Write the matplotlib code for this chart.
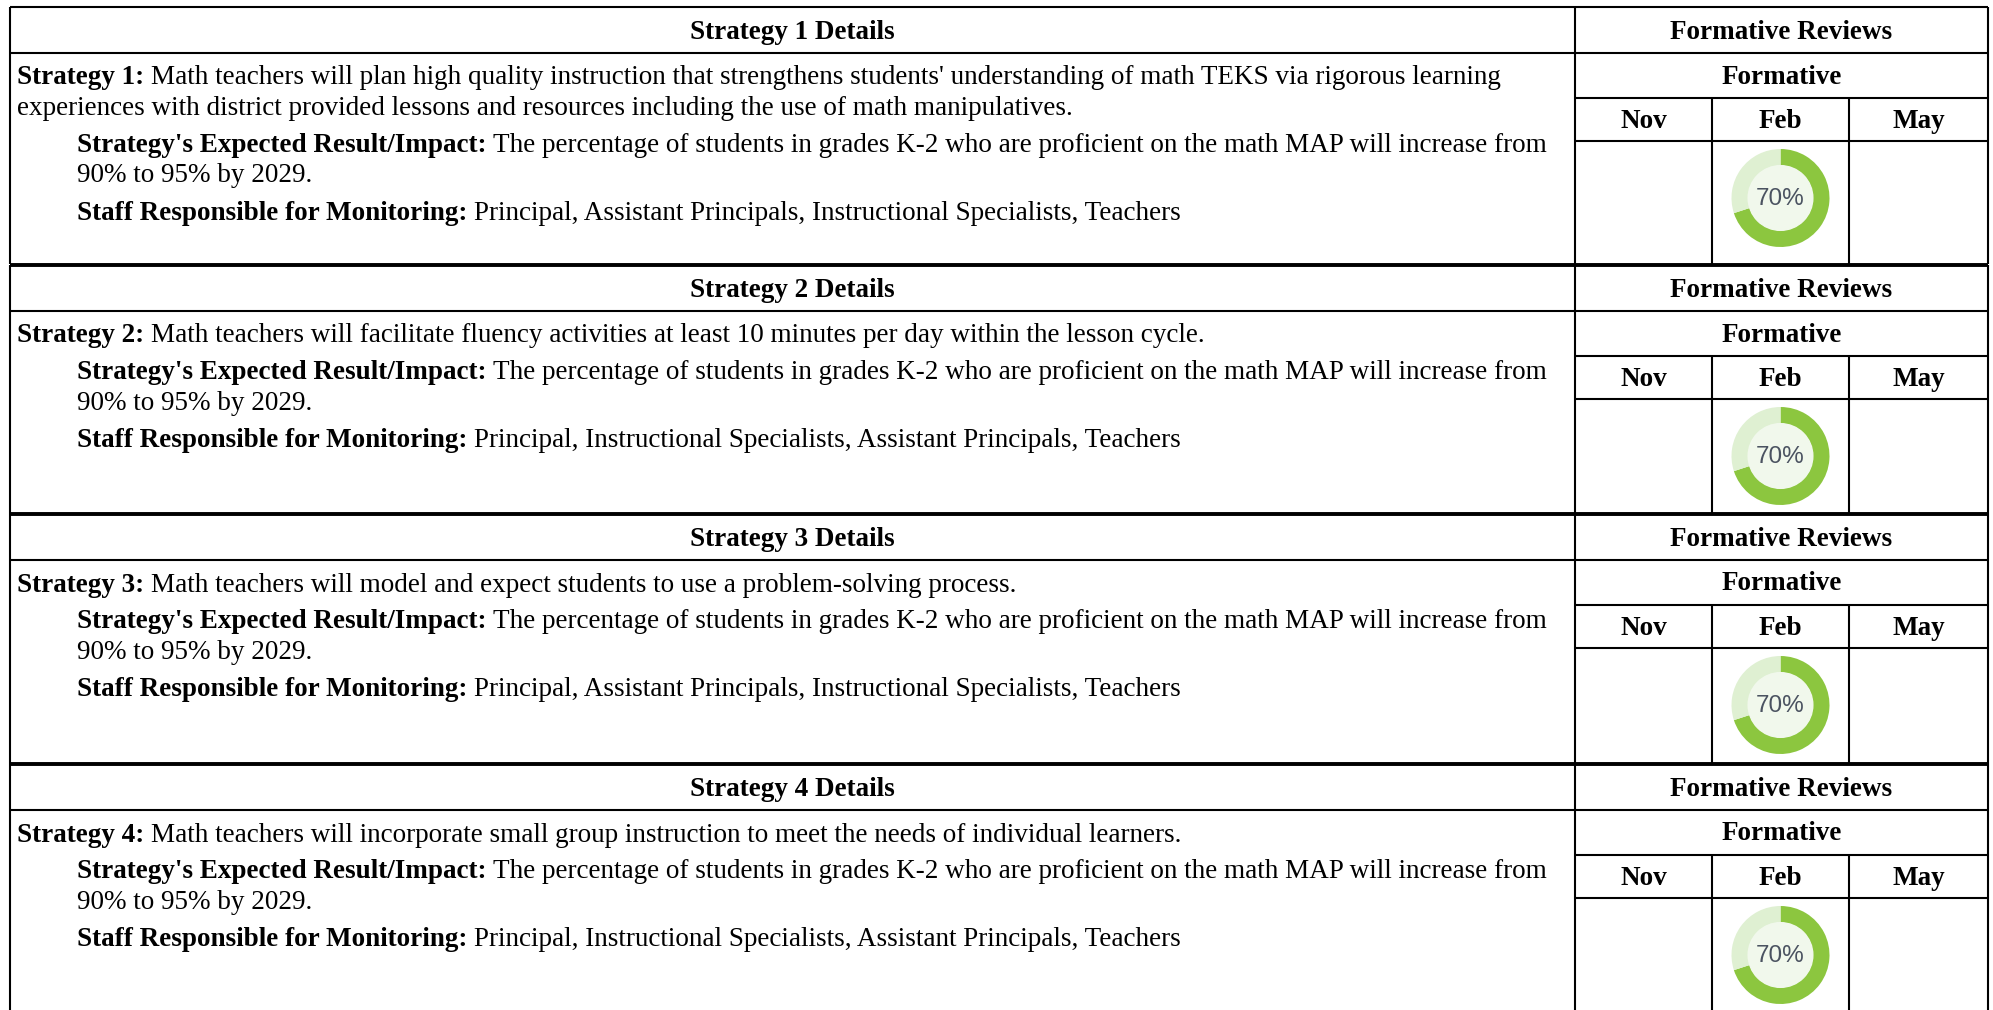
import matplotlib
matplotlib.use("Agg")
import matplotlib.pyplot as plt
from matplotlib.patches import Circle

W, H = 1993, 1010

# --- content ---
block_titles = ["Strategy 1 Details", "Strategy 2 Details", "Strategy 3 Details", "Strategy 4 Details"]
strategy_labels = ["Strategy 1:", "Strategy 2:", "Strategy 3:", "Strategy 4:"]
strategy_text = [
    ["Math teachers will plan high quality instruction that strengthens students' understanding of math TEKS via rigorous learning",
     "experiences with district provided lessons and resources including the use of math manipulatives."],
    ["Math teachers will facilitate fluency activities at least 10 minutes per day within the lesson cycle."],
    ["Math teachers will model and expect students to use a problem-solving process."],
    ["Math teachers will incorporate small group instruction to meet the needs of individual learners."],
]
impact_label = "Strategy's Expected Result/Impact:"
impact_text = ["The percentage of students in grades K-2 who are proficient on the math MAP will increase from",
               "90% to 95% by 2029."]
staff_label = "Staff Responsible for Monitoring:"
staff_text = [
    "Principal, Assistant Principals, Instructional Specialists, Teachers",
    "Principal, Instructional Specialists, Assistant Principals, Teachers",
    "Principal, Assistant Principals, Instructional Specialists, Teachers",
    "Principal, Instructional Specialists, Assistant Principals, Teachers",
]
review_title = "Formative Reviews"
review_sub = "Formative"
months = ["Nov", "Feb", "May"]
feb_progress = [70, 70, 70, 70]

# --- layout (pixels) ---
block_tops = [7, 265, 514, 764]
block_bottoms = [264, 514, 764, 1012]
x_left, x_div, x_right = 10, 1575, 1988
month_x = [1575, 1712, 1849, 1988]
fs = 19.5
serif = "Liberation Serif"
green = "#8cc63f"
light = "#dff0d2"
inner = "#f1f8ec"

fig = plt.figure(figsize=(W / 100, H / 100), dpi=100)
ax = fig.add_axes([0, 0, 1, 1])
ax.set_xlim(0, W)
ax.set_ylim(H, 0)
ax.axis("off")
renderer = fig.canvas.get_renderer()

thin = 1.5
thick = 2.8


def hline(y, x0, x1, lw=thin):
    ax.plot([x0, x1], [y, y], color="black", lw=lw, solid_capstyle="butt")


def vline(x, y0, y1, lw=thin):
    ax.plot([x, x], [y0, y1], color="black", lw=lw, solid_capstyle="butt")


def rich(x, y, label, text):
    t = ax.text(x, y, label, fontsize=fs, family=serif, weight="bold", va="baseline")
    bb = t.get_window_extent(renderer)
    ax.text(bb.x1 + 6.5, y, text, fontsize=fs, family=serif, va="baseline")


for i, top in enumerate(block_tops):
    bot = block_bottoms[i]
    r1, r2, r3 = top + 45.5, top + 90.5, top + 134

    # borders
    hline(top, x_left, x_right, thick if i > 0 else thin)
    hline(r1, x_left, x_right)
    hline(r2, x_div, x_right)
    hline(r3, x_div, x_right)
    vline(x_left, top, bot)
    vline(x_div, top, bot)
    vline(x_right, top, bot)
    for mx in month_x[1:3]:
        vline(mx, r2, bot)

    # headers
    ax.text((x_left + x_div) / 2, top + 32, block_titles[i], fontsize=fs, family=serif,
            weight="bold", ha="center", va="baseline")
    ax.text((x_div + x_right) / 2, top + 32, review_title, fontsize=fs, family=serif,
            weight="bold", ha="center", va="baseline")
    ax.text((x_div + x_right) / 2, (r1 + r2) / 2 + 8.5, review_sub, fontsize=fs, family=serif,
            weight="bold", ha="center", va="baseline")
    for j, m in enumerate(months):
        ax.text((month_x[j] + month_x[j + 1]) / 2, (r2 + r3) / 2 + 8.5, m, fontsize=fs,
                family=serif, weight="bold", ha="center", va="baseline")

    # left text
    y = top + 77.5
    rich(17, y, strategy_labels[i], strategy_text[i][0])
    for line in strategy_text[i][1:]:
        y += 30.5
        ax.text(17, y, line, fontsize=fs, family=serif, va="baseline")
    y += 36.5
    rich(77, y, impact_label, impact_text[0])
    y += 31
    ax.text(77, y, impact_text[1], fontsize=fs, family=serif, va="baseline")
    y += 37
    rich(77, y, staff_label, staff_text[i])

    # donut for Feb
    cx = (month_x[1] + month_x[2]) / 2
    cy = r3 + 57
    rad = 49
    dax = fig.add_axes([(cx - rad) / W, 1 - (cy + rad) / H, 2 * rad / W, 2 * rad / H])
    val = feb_progress[i]
    dax.pie([val, 100 - val], colors=[green, light], startangle=90, counterclock=False,
            radius=1, wedgeprops=dict(width=0.34, edgecolor="none"))
    dax.add_patch(Circle((0, 0), 0.66, color=inner, zorder=3))
    dax.text(0, -0.02, f"{val}%", ha="center", va="center", fontsize=17.5,
             family="Liberation Sans", color="#4b5361", zorder=4)
    dax.set_xlim(-1, 1)
    dax.set_ylim(-1, 1)
    dax.set_aspect("equal")
    dax.axis("off")

fig.savefig("out.png", dpi=100, facecolor="white")
